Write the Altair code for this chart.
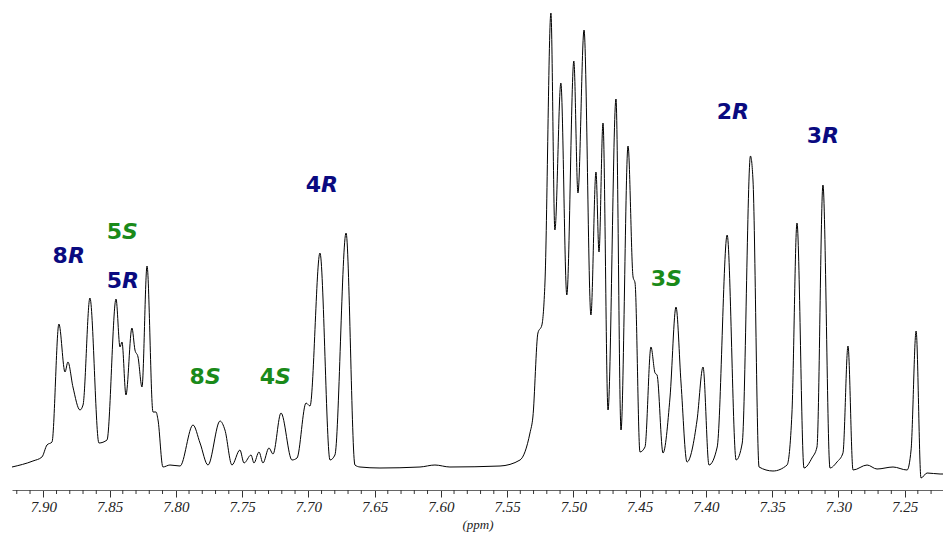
import altair as alt
import pandas as pd

# 1H NMR trace: chemical shift (ppm) and intensity (arbitrary units)
ppm = [7.9236, 7.9078, 7.9010, 7.8972, 7.8934, 7.8882, 7.8836, 7.8814, 7.8776, 7.8723,
       7.8700, 7.8648, 7.8580, 7.8519, 7.8451, 7.8421, 7.8406, 7.8376, 7.8331, 7.8308,
       7.8285, 7.8255, 7.8217, 7.8172, 7.8149, 7.8134, 7.8097, 7.8044, 7.7968, 7.7870,
       7.7817, 7.7757, 7.7666, 7.7629, 7.7576, 7.7516, 7.7485, 7.7432, 7.7410, 7.7372,
       7.7342, 7.7297, 7.7266, 7.7206, 7.7123, 7.7085, 7.7017, 7.6987, 7.6912, 7.6836,
       7.6799, 7.6715, 7.6648, 7.6610, 7.6459, 7.6157, 7.6044, 7.5931, 7.5553, 7.5402,
       7.5327, 7.5305, 7.5267, 7.5237, 7.5214, 7.5169, 7.5139, 7.5094, 7.5049, 7.4996,
       7.4965, 7.4919, 7.4867, 7.4829, 7.4806, 7.4776, 7.4738, 7.4678, 7.4640, 7.4587,
       7.4549, 7.4534, 7.4497, 7.4459, 7.4414, 7.4383, 7.4368, 7.4323, 7.4270, 7.4225,
       7.4187, 7.4142, 7.4066, 7.4021, 7.3976, 7.3914, 7.3839, 7.3771, 7.3725, 7.3663,
       7.3644, 7.3598, 7.3493, 7.3387, 7.3350, 7.3312, 7.3259, 7.3199, 7.3161, 7.3116,
       7.3063, 7.3010, 7.2965, 7.2927, 7.2889, 7.2783, 7.2708, 7.2587, 7.2481, 7.2451,
       7.2413, 7.2376, 7.2330, 7.2232, 7.2210]
intensity = [0, 6, 10, 22, 25, 143, 95, 105, 80, 57,
             62, 169, 24, 27, 168, 120, 125, 72, 139, 117,
             110, 80, 201, 55, 55, 47, 0, 2, 1, 42,
             24, 2, 46, 37, 2, 17, 4, 12, 4, 15,
             4, 19, 13, 54, 7, 9, 64, 61, 214, 7,
             12, 234, 2, 0, -1, 0, 2, 0, 1, 7,
             34, 50, 134, 142, 184, 454, 237, 384, 172, 406,
             274, 437, 152, 295, 215, 344, 57, 368, 37, 321,
             190, 184, 15, 20, 120, 94, 92, 14, 70, 160,
             84, 5, 47, 100, 2, 20, 232, 7, 24, 311,
             287, 0, -4, 2, 54, 244, -1, 9, 20, 282,
             -1, 5, 14, 121, -3, 2, -2, 0, -3, 17,
             136, -11, -6, -7, -7]

# peak assignments: number, configuration letter, position, height, colour
lab_num = ["8", "5", "5", "8", "4", "4", "3", "2", "3"]
lab_let = ["R", "S", "R", "S", "S", "R", "S", "R", "R"]
lab_ppm = [7.8814, 7.8406, 7.8406, 7.7780, 7.7251, 7.6904, 7.4300, 7.3802, 7.3123]
lab_int = [211, 235, 186, 90, 90, 282, 188, 355, 331]
lab_col = ["#0a0a80", "#1a8a1a", "#0a0a80", "#1a8a1a", "#1a8a1a", "#0a0a80", "#1a8a1a", "#0a0a80", "#0a0a80"]

major_ticks = [7.90, 7.85, 7.80, 7.75, 7.70, 7.65, 7.60, 7.55, 7.50, 7.45, 7.40, 7.35, 7.30, 7.25]
minor_ticks = [7.92, 7.91, 7.89, 7.88, 7.87, 7.86, 7.84, 7.83, 7.82, 7.81,
               7.79, 7.78, 7.77, 7.76, 7.74, 7.73, 7.72, 7.71, 7.69, 7.68,
               7.67, 7.66, 7.64, 7.63, 7.62, 7.61, 7.59, 7.58, 7.57, 7.56,
               7.54, 7.53, 7.52, 7.51, 7.49, 7.48, 7.47, 7.46, 7.44, 7.43,
               7.42, 7.41, 7.39, 7.38, 7.37, 7.36, 7.34, 7.33, 7.32, 7.31,
               7.29, 7.28, 7.27, 7.26, 7.24, 7.23]

spec = pd.DataFrame({"ppm": ppm, "I": intensity})
labels = pd.DataFrame({"num": lab_num, "let": lab_let, "ppm": lab_ppm,
                       "I": lab_int, "col": lab_col})
minor = pd.DataFrame({"ppm": minor_ticks})

xscale = alt.Scale(domain=[7.2210, 7.9236], reverse=True, nice=False, zero=False)
yscale = alt.Scale(domain=[-23, 467], nice=False, zero=False)

xaxis = alt.Axis(
    values=major_ticks, format=".2f",
    tickSize=7, tickColor="#333333", tickWidth=1,
    domainColor="#666666", domainWidth=1,
    labelFont="Liberation Serif", labelFontStyle="italic", labelFontSize=15,
    labelColor="#222222", labelPadding=2, labelFlush=False, labelOverlap=False,
    grid=False,
    title="(ppm)", titleFont="Liberation Serif", titleFontStyle="italic",
    titleFontSize=13, titleFontWeight="normal", titleColor="#222222", titlePadding=4,
)

line = alt.Chart(spec).mark_line(color="black", strokeWidth=1, interpolate="monotone").encode(
    x=alt.X("ppm:Q", scale=xscale, axis=xaxis),
    y=alt.Y("I:Q", scale=yscale, axis=None),
    order="ppm:Q",
)

minor_rules = alt.Chart(minor).mark_rule(color="#333333", strokeWidth=1).encode(
    x=alt.X("ppm:Q", scale=xscale),
    y=alt.value(490),
    y2=alt.value(494),
)

num_text = alt.Chart(labels).mark_text(
    align="right", baseline="middle", font="DejaVu Sans", fontWeight="bold", fontSize=22
).encode(
    x=alt.X("ppm:Q", scale=xscale),
    y=alt.Y("I:Q", scale=yscale),
    text="num:N",
    color=alt.Color("col:N", scale=None),
)

let_text = alt.Chart(labels).mark_text(
    align="left", baseline="middle", font="DejaVu Sans", fontWeight="bold",
    fontStyle="italic", fontSize=22
).encode(
    x=alt.X("ppm:Q", scale=xscale),
    y=alt.Y("I:Q", scale=yscale),
    text="let:N",
    color=alt.Color("col:N", scale=None),
)

chart = alt.layer(line, minor_rules, num_text, let_text).properties(
    width=931, height=490,
    autosize=alt.AutoSizeParams(type="none"),
    padding={"left": 12, "top": 0, "right": 0, "bottom": 43},
    background="white",
).configure_view(stroke=None)

chart.save("out.html", embed_options={"renderer": "svg", "actions": False})
